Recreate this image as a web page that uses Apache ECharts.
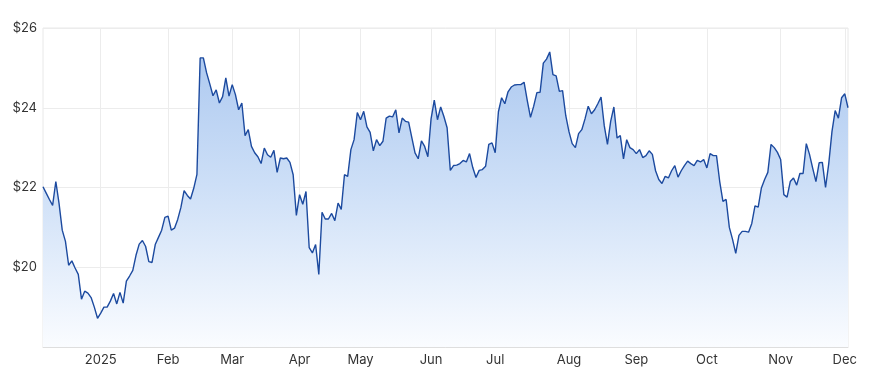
<!DOCTYPE html>
<html>
<head>
<meta charset="utf-8">
<script src="https://cdn.jsdelivr.net/npm/echarts@6/dist/echarts.min.js"></script>
<style>
html,body{margin:0;padding:0;background:#fff;}
#chart{width:874px;height:381px;}
</style>
</head>
<body>
<div id="chart"></div>
<script>
// Trading calendar (ASX): first and last trading day shown, plus exchange holidays
const startDate = '2024-12-04';
const endDate = '2025-12-02';
const holidays = ['2024-12-25','2024-12-26','2025-01-01','2025-01-27','2025-04-18','2025-04-21','2025-04-25','2025-06-09'];

// Closing price per trading day
const prices = [
22.02,21.86,21.70,21.55,22.15,21.60,20.93,20.65,20.05,20.16,
19.98,19.82,19.20,19.40,19.35,19.24,19.00,18.72,18.85,19.00,
19.00,19.15,19.34,19.08,19.37,19.10,19.65,19.78,19.92,20.30,
20.58,20.67,20.52,20.14,20.12,20.57,20.75,20.93,21.25,21.28,
20.93,20.98,21.20,21.50,21.92,21.80,21.71,21.98,22.33,25.25,
25.25,24.88,24.60,24.30,24.45,24.12,24.28,24.75,24.29,24.58,
24.33,23.95,24.12,23.30,23.45,23.03,22.87,22.77,22.60,22.99,
22.82,22.76,22.93,22.38,22.74,22.72,22.74,22.63,22.32,21.30,
21.82,21.58,21.90,20.49,20.36,20.57,19.82,21.38,21.21,21.21,
21.35,21.17,21.61,21.45,22.32,22.28,22.95,23.20,23.88,23.70,
23.91,23.52,23.38,22.92,23.20,23.05,23.16,23.74,23.79,23.77,
23.95,23.37,23.74,23.66,23.64,23.25,22.87,22.72,23.17,23.03,
22.77,23.72,24.19,23.70,24.02,23.78,23.50,22.43,22.55,22.56,
22.60,22.68,22.64,22.85,22.50,22.25,22.43,22.45,22.53,23.08,
23.12,22.87,23.90,24.25,24.10,24.40,24.52,24.57,24.58,24.58,
24.64,24.18,23.76,24.04,24.38,24.39,25.12,25.22,25.40,24.83,
24.80,24.41,24.43,23.80,23.40,23.10,23.00,23.35,23.45,23.72,
24.04,23.85,23.95,24.10,24.27,23.55,23.08,23.66,24.02,23.24,
23.30,22.72,23.20,23.00,22.95,22.85,22.95,22.75,22.80,22.92,
22.83,22.42,22.20,22.10,22.28,22.24,22.42,22.55,22.26,22.42,
22.55,22.66,22.60,22.55,22.68,22.64,22.70,22.49,22.85,22.80,
22.80,22.15,21.65,21.70,21.00,20.70,20.35,20.80,20.90,20.90,
20.88,21.10,21.54,21.51,21.99,22.20,22.38,23.08,23.00,22.88,
22.70,21.82,21.76,22.15,22.24,22.06,22.35,22.35,23.10,22.83,
22.48,22.15,22.62,22.63,22.00,22.60,23.40,23.93,23.74,24.25,
24.35,24.00
];

// Value axis ticks
const yMin = 18, yMax = 26, yStep = 2;
const monthNames = ['2025','Feb','Mar','Apr','May','Jun','Jul','Aug','Sep','Oct','Nov','Dec'];

function fmt(d){
  const m = d.getUTCMonth()+1, day = d.getUTCDate();
  return d.getUTCFullYear()+'-'+(m<10?'0':'')+m+'-'+(day<10?'0':'')+day;
}
const dates = [];
{
  let d = new Date(startDate+'T00:00:00Z');
  const end = new Date(endDate+'T00:00:00Z');
  while (d <= end) {
    const wd = d.getUTCDay();
    const s = fmt(d);
    if (wd !== 0 && wd !== 6 && holidays.indexOf(s) < 0) dates.push(s);
    d = new Date(d.getTime() + 86400000);
  }
}
// first trading day of each month
const monthStart = dates.map((s,i) => i>0 && s.slice(0,7) !== dates[i-1].slice(0,7));

const chart = echarts.init(document.getElementById('chart'), null, {renderer:'canvas'});
chart.setOption({
  animation: false,
  grid: {left: 43, right: 26, top: 28, bottom: 34, show: true, borderColor: '#e8e8e8', borderWidth: 1},
  xAxis: {
    type: 'category',
    data: dates,
    boundaryGap: false,
    axisLine: {show: true, lineStyle: {color: '#dedede'}},
    axisTick: {show: false},
    axisLabel: {
      interval: (i) => monthStart[i],
      formatter: (v) => monthNames[parseInt(v.slice(5,7),10)-1],
      color: '#333333', fontSize: 13, fontFamily: 'Inter', margin: 7
    },
    splitLine: {show: true, interval: (i) => monthStart[i], lineStyle: {color: '#ececec', width: 1}}
  },
  yAxis: {
    type: 'value',
    min: yMin, max: yMax, interval: yStep,
    axisLine: {show: false},
    axisTick: {show: false},
    axisLabel: {
      formatter: (v) => v === yMin ? '' : '$' + v,
      color: '#333333', fontSize: 13, fontFamily: 'Inter', margin: 6
    },
    splitLine: {show: true, lineStyle: {color: '#ececec', width: 1}}
  },
  series: [{
    type: 'line',
    data: prices,
    symbol: 'none',
    lineStyle: {color: '#1c4a9f', width: 1.4},
    areaStyle: {
      opacity: 1,
      color: new echarts.graphic.LinearGradient(0,0,0,1,[
        {offset: 0, color: '#adc9f0'},
        {offset: 0.45, color: '#cddff7'},
        {offset: 1, color: '#fafcff'}
      ])
    }
  }]
});
</script>
</body>
</html>
